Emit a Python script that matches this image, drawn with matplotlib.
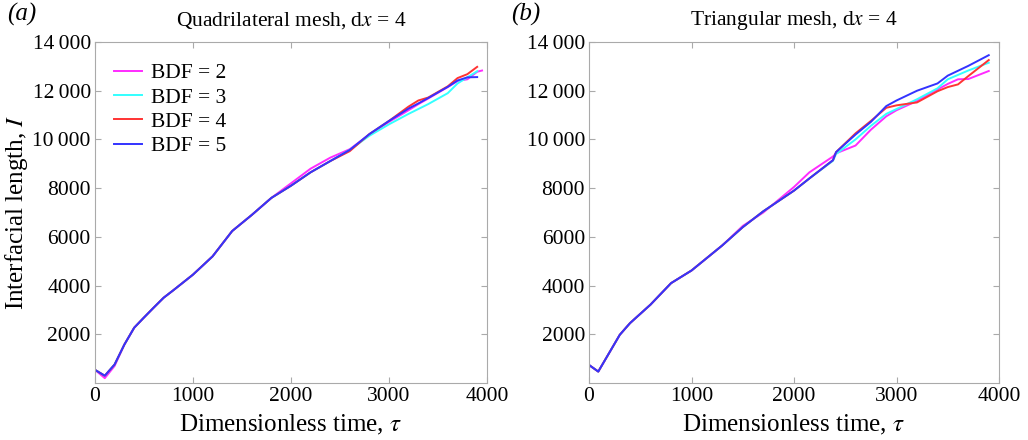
import numpy as np
import matplotlib
matplotlib.use("Agg")
import matplotlib.pyplot as plt
from matplotlib.ticker import FuncFormatter

plt.rcParams["font.family"] = ["Liberation Serif", "DejaVu Serif"]
plt.rcParams["mathtext.fontset"] = "stix"

labels = ["BDF = 2", "BDF = 3", "BDF = 4", "BDF = 5"]
colors = ["#ff2bff", "#33ffff", "#ff3333", "#3333ff"]

# (a) quadrilateral mesh
t_quad = [0, 100, 200, 300, 400, 500, 600, 700, 800, 1000, 1200, 1400, 1600,
          1800, 2000, 2200, 2400, 2600, 2800, 3000, 3200, 3300, 3400, 3600,
          3700, 3800, 3900, 3950]
quad_bdf2 = [540, 200, 700, 1580, 2270, 2690, 3100, 3500, 3810, 4450, 5200,
             6240, 6900, 7600, 8200, 8800, 9250, 9600, 10200, 10720, 11200,
             11450, 11680, 12150, 12400, 12470, 12780, 12830]
quad_bdf3 = [540, 300, 760, 1580, 2270, 2690, 3100, 3500, 3810, 4450, 5200,
             6240, 6900, 7600, 8100, 8650, 9110, 9570, 10150, 10620, 11050,
             11250, 11450, 11900, 12300, 12550, 12800, np.nan]
quad_bdf4 = [540, 300, 760, 1580, 2270, 2690, 3100, 3500, 3810, 4450, 5200,
             6240, 6900, 7600, 8100, 8650, 9110, 9520, 10220, 10760, 11350,
             11600, 11720, 12180, 12520, 12680, 12980, np.nan]
quad_bdf5 = [540, 300, 760, 1580, 2270, 2690, 3100, 3500, 3810, 4450, 5200,
             6240, 6900, 7600, 8100, 8650, 9110, 9570, 10220, 10760, 11270,
             11480, 11700, 12160, 12420, 12550, 12560, np.nan]

# (b) triangular mesh
t_tri = [0, 90, 300, 400, 600, 800, 1000, 1300, 1500, 1700, 2000, 2150, 2380,
         2410, 2600, 2750, 2900, 3000, 3200, 3400, 3500, 3600, 3700, 3900]
tri_bdf2 = [740, 470, 1980, 2460, 3220, 4100, 4620, 5650, 6450, 7000, 8050,
            8650, 9300, 9430, 9750, 10400, 10950, 11200, 11580, 12050, 12280,
            12470, 12480, 12810]
tri_bdf3 = [740, 470, 1980, 2460, 3220, 4100, 4620, 5650, 6400, 7050, 7900,
            8400, 9120, 9400, 10000, 10560, 11050, 11250, 11650, 12100, 12470,
            12650, 12830, 13150]
tri_bdf4 = [740, 470, 1980, 2460, 3220, 4100, 4620, 5650, 6400, 7050, 7900,
            8400, 9150, 9480, 10250, 10760, 11300, 11400, 11520, 11980, 12150,
            12260, 12600, 13260]
tri_bdf5 = [740, 470, 1980, 2460, 3220, 4100, 4620, 5650, 6400, 7050, 7900,
            8400, 9150, 9480, 10200, 10720, 11370, 11600, 12000, 12300, 12620,
            12820, 13020, 13460]

panels = [
    ("(a)", "Quadrilateral mesh, d$x$ = 4", t_quad,
     [quad_bdf2, quad_bdf3, quad_bdf4, quad_bdf5]),
    ("(b)", "Triangular mesh, d$x$ = 4", t_tri,
     [tri_bdf2, tri_bdf3, tri_bdf4, tri_bdf5]),
]


def fmt_thousands(v, pos):
    v = int(round(v))
    if v >= 10000:
        return f"{v // 1000}\u2009{v % 1000:03d}"
    return str(v)


fig = plt.figure(figsize=(10.28, 4.4), dpi=100)
boxes = [[0.0924, 0.1295, 0.3813, 0.775], [0.573, 0.1295, 0.3988, 0.775]]

for i, (tag, title, t, series) in enumerate(panels):
    ax = fig.add_axes(boxes[i])
    for y, lab, c in zip(series, labels, colors):
        ax.plot(t, y, color=c, lw=1.4, label=lab)
    ax.set_xlim(0, 4000)
    ax.set_ylim(0, 14000)
    ax.set_xticks([0, 1000, 2000, 3000, 4000])
    ax.set_yticks([2000, 4000, 6000, 8000, 10000, 12000, 14000])
    ax.yaxis.set_major_formatter(FuncFormatter(fmt_thousands))
    ax.tick_params(direction="in", top=True, right=True, length=4,
                   color="#aaaaaa", labelsize=15.5, pad=3)
    for s in ax.spines.values():
        s.set_color("#aaaaaa")
    ax.set_xlabel("Dimensionless time, $\\tau$", fontsize=18, labelpad=5)
    if i == 0:
        ax.set_ylabel("Interfacial length, $I$", fontsize=18, labelpad=2)
        ax.legend(loc="upper left", frameon=False, fontsize=15.5,
                  handlelength=1.3, handletextpad=0.4, labelspacing=0.2,
                  bbox_to_anchor=(0.0, 0.995))
    ax.set_title(title, fontsize=15.5, pad=12)
    ax.text(-0.225 if i == 0 else -0.19, 1.08, tag, transform=ax.transAxes,
            fontsize=18, fontstyle="italic", ha="left", va="center")

fig.savefig("out.png", dpi=100)
